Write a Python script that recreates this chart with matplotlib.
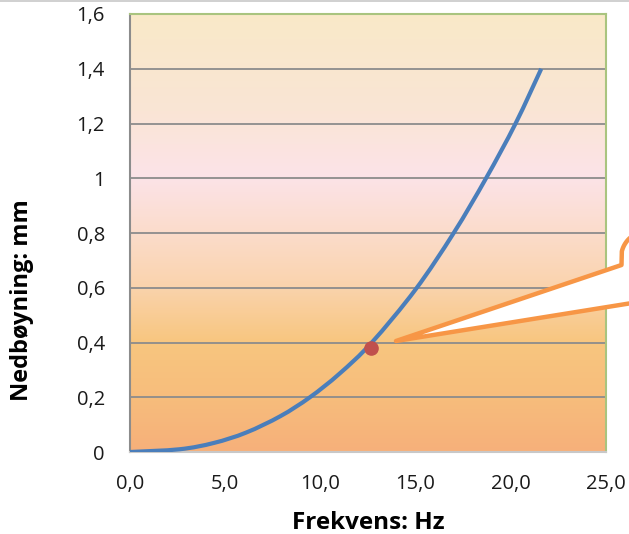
import numpy as np
import matplotlib.pyplot as plt
from matplotlib.colors import LinearSegmentedColormap
from matplotlib.patches import Polygon, PathPatch
from matplotlib.path import Path
from matplotlib.lines import Line2D
from matplotlib.ticker import FuncFormatter

plt.rcParams['font.family'] = ['Open Sans', 'DejaVu Sans']

# frequency (Hz) vs deflection (mm)
frekvens = [0, 2.6, 4.4, 6.1, 7.9, 9.45, 11.0, 12.7, 15.0, 17.0, 18.7, 20.25, 21.6]
nedboyning = [0, 0.01, 0.033, 0.071, 0.131, 0.2, 0.286, 0.4, 0.594, 0.8, 1.0, 1.2, 1.4]

# measured point
punkt_f = [12.65]
punkt_d = [0.38]

x_ticks = [0, 5, 10, 15, 20, 25]
y_ticks = [0, 0.2, 0.4, 0.6, 0.8, 1.0, 1.2, 1.4, 1.6]

W, H = 629, 534
fig = plt.figure(figsize=(W / 100, H / 100), dpi=100)
ax = fig.add_axes([130 / W, 1 - 452 / H, (606 - 130) / W, (452 - 14) / H])

# background gradient: orange at the bottom, pink in the middle, cream at top
grad = LinearSegmentedColormap.from_list('bg', [
    (0.0, '#f6b07a'),
    (0.125, '#f7bd7c'),
    (0.25, '#f8c67f'),
    (0.375, '#fad3ac'),
    (0.5, '#fbdccb'),
    (0.63, '#fce3e8'),
    (0.78, '#fae5d5'),
    (1.0, '#f9e9c8'),
])
ax.imshow(np.linspace(0, 1, 256).reshape(-1, 1), cmap=grad, origin='lower',
          extent=[0, 25, 0, 1.6], aspect='auto', zorder=0)

ax.set_xlim(0, 25)
ax.set_ylim(0, 1.6)
ax.set_xticks(x_ticks)
ax.set_yticks(y_ticks)
ax.xaxis.set_major_formatter(FuncFormatter(lambda v, p: f'{v:.1f}'.replace('.', ',')))
ax.yaxis.set_major_formatter(FuncFormatter(lambda v, p: f'{v:g}'.replace('.', ',')))
ax.tick_params(length=0, labelsize=14.5, labelcolor='#1a1a1a')
ax.tick_params(axis='y', pad=18)
ax.tick_params(axis='x', pad=16)
ax.grid(axis='y', color='#8c8c8c', linewidth=1.3, zorder=1)
ax.set_axisbelow(True)

ax.spines['left'].set_color('#8c8c8c')
ax.spines['bottom'].set_color('#c8c8c8')
ax.spines['top'].set_color('#a9c47f')
ax.spines['right'].set_color('#a9c47f')
for s in ax.spines.values():
    s.set_linewidth(1.5)

# smoothed line through the points (Catmull-Rom as cubic Bezier segments)
fx = np.array(frekvens) / 25.0
fy = np.array(nedboyning) / 1.6
p = np.column_stack([fx, fy])
p_ext = np.vstack([p[0], p, p[-1]])
verts = [tuple(p[0])]
codes = [Path.MOVETO]
for i in range(1, len(p_ext) - 2):
    p0, p1, p2, p3 = p_ext[i - 1], p_ext[i], p_ext[i + 1], p_ext[i + 2]
    c1 = p1 + (p2 - p0) / 6
    c2 = p2 - (p3 - p1) / 6
    verts += [tuple(c1), tuple(c2), tuple(p2)]
    codes += [Path.CURVE4] * 3
ax.add_patch(PathPatch(Path(verts, codes), transform=ax.transAxes, facecolor='none',
                       edgecolor='#4a7ebb', linewidth=3, capstyle='butt', zorder=3))
ax.plot(punkt_f, punkt_d, 'o', color='#c0504d', markersize=9.5, zorder=4)

fig.text(368 / W, 1 - 523 / H, 'Frekvens: Hz', ha='center', va='center',
         fontsize=17.5, fontweight='bold')
fig.text(22 / W, 1 - 300 / H, 'Nedbøyning: mm', ha='center', va='center',
         rotation=90, fontsize=17, fontweight='bold')

# speech bubble callout pointing at the measured point
def px(x, y):
    return (x / W, 1 - y / H)

theta = np.linspace(np.pi * 0.92, np.pi * 0.55, 20)
cx, cy, r = 648, 258, 27
arc = [px(cx + r * np.cos(t), cy - r * np.sin(t)) for t in theta]
pts = [px(396, 341), px(621.5, 265)] + arc + [px(640, 200), px(640, 303), px(629, 303.5)]
fill = Polygon(pts, closed=True, transform=fig.transFigure, facecolor='white',
               edgecolor='none', zorder=5)
fig.add_artist(fill)
outline = [px(629, 303.5), px(396, 341), px(621.5, 265)] + arc
xs, ys = zip(*outline)
fig.add_artist(Line2D(xs, ys, transform=fig.transFigure, color='#f79646',
                      linewidth=3.2, solid_joinstyle='round', solid_capstyle='round', zorder=6))

# thin border line along the top edge
fig.add_artist(Line2D([0, 1], [1 - 1 / H, 1 - 1 / H], transform=fig.transFigure,
                      color='#c8c8c8', linewidth=1.2))

fig.savefig('out.png', dpi=100)
